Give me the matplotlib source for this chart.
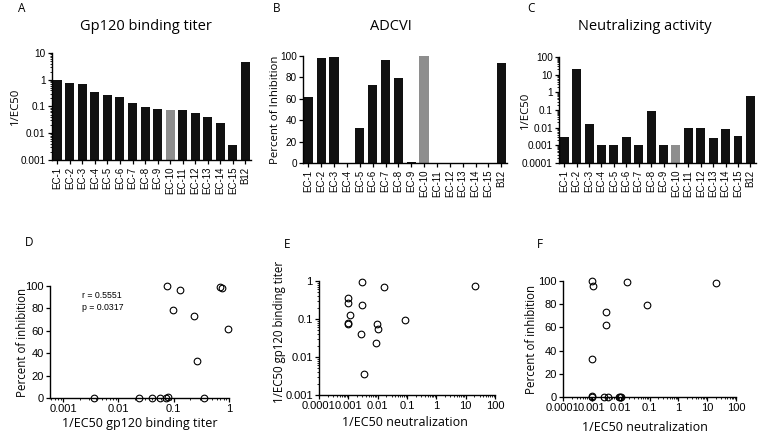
import numpy as np
import matplotlib
matplotlib.use("Agg")
import matplotlib.pyplot as plt
from matplotlib.ticker import LogLocator, NullFormatter, FuncFormatter, FixedLocator

plt.rcParams["font.family"] = ["Liberation Sans", "DejaVu Sans"]

labels = ["EC-1", "EC-2", "EC-3", "EC-4", "EC-5", "EC-6", "EC-7", "EC-8",
          "EC-9", "EC-10", "EC-11", "EC-12", "EC-13", "EC-14", "EC-15", "B12"]
binding = [0.95, 0.75, 0.69, 0.36, 0.26, 0.23, 0.13, 0.097, 0.079, 0.075,
           0.073, 0.056, 0.040, 0.024, 0.0036, 4.7]
adcvi = [62, 98, 99, 0, 33, 73, 96, 79, 1, 100, 0, 0, 0, 0, 0, 93]
neut = [0.003, 21, 0.017, 0.001, 0.001, 0.003, 0.0011, 0.085, 0.001, 0.001,
        0.0095, 0.01, 0.0027, 0.0085, 0.0035, 0.65]
gray_bar = "EC-10"

W, H = 762, 437
LABEL_FONT = "Open Sans"


def fx(px):
    return px / W


def fy(py):
    return 1 - py / H


def rect(left, top, right, bottom):
    return [fx(left), fy(bottom), fx(right) - fx(left), fy(top) - fy(bottom)]


def log_fmt(v, pos):
    return "{:g}".format(v)


def style(ax, fs):
    for s in ["top", "right"]:
        ax.spines[s].set_visible(False)
    for s in ["left", "bottom"]:
        ax.spines[s].set_linewidth(1.0)
    ax.tick_params(which="major", length=3, width=0.9, labelsize=fs, pad=1.5)
    ax.tick_params(which="minor", length=1.6, width=0.6)


def log_axis(axis):
    axis.set_major_locator(LogLocator(base=10, numticks=20))
    axis.set_minor_locator(LogLocator(base=10, subs=np.arange(2, 10), numticks=20))
    axis.set_major_formatter(FuncFormatter(log_fmt))
    axis.set_minor_formatter(NullFormatter())


def place_ylabel(ax, right_px, rc, shift=0.0):
    ax.yaxis.set_label_coords(fx(right_px), rc[1] + rc[3] / 2 + shift, transform=fig.transFigure)


fig = plt.figure(figsize=(W / 100, H / 100), dpi=100)

x = np.arange(len(labels))
colors = ["#8e8e8e" if l == gray_bar else "#111111" for l in labels]


def bar_panel(rc, vals, log, ylim, title, ylabel, tx, ylab_x):
    ax = fig.add_axes(rc)
    if log:
        ax.set_yscale("log", nonpositive="clip")
    ax.bar(x, vals, width=0.72, color=colors, bottom=ylim[0] if log else 0)
    ax.set_xlim(-0.42, len(labels) - 0.55)
    style(ax, 7.2)
    if log:
        log_axis(ax.yaxis)
    ax.set_ylim(*ylim)
    ax.set_xticks(x)
    ax.set_xticklabels(labels, rotation=90, fontsize=7)
    ax.tick_params(axis="x", length=3, pad=2)
    ax.set_ylabel(ylabel, fontsize=8.2, family=LABEL_FONT)
    place_ylabel(ax, ylab_x, rc)
    fig.text(fx(tx), fy(26), title, ha="center", va="center", fontsize=10.5, family=LABEL_FONT)
    return ax


bar_panel(rect(52, 53, 251, 160), [v - 0.001 for v in binding], True, (0.001, 10),
          "Gp120 binding titer", "1/EC50", 146, 21)
axb = bar_panel(rect(303, 56, 507, 163), adcvi, False, (0, 100),
                "ADCVI", "Percent of Inhibition", 391, 281)
axb.set_yticks([0, 20, 40, 60, 80, 100])
bar_panel(rect(559, 57, 756, 163), [v - 0.0001 for v in neut], True, (0.0001, 100),
          "Neutralizing activity", "1/EC50", 645, 531)

for lab, px, py in [("A", 22, 9), ("B", 277, 9), ("C", 531, 9),
                    ("D", 29, 243), ("E", 287, 245), ("F", 540, 245)]:
    fig.text(fx(px), fy(py), lab, ha="center", va="center", fontsize=8.5, family=LABEL_FONT)

ec_binding = binding[:15]
ec_adcvi = adcvi[:15]
ec_neut = neut[:15]


def scatter(ax, xs, ys):
    ax.plot(xs, ys, "o", mfc="none", mec="black", ms=4.8, mew=0.8, clip_on=False, zorder=5)


# D
rc_d = rect(50, 286, 229, 398)
axd = fig.add_axes(rc_d)
axd.set_xscale("log")
scatter(axd, ec_binding, ec_adcvi)
style(axd, 8)
log_axis(axd.xaxis)
axd.xaxis.set_major_locator(FixedLocator([0.001, 0.01, 0.1, 1]))
axd.set_xlim(0.00058, 1)
axd.set_ylim(0, 100)
axd.set_yticks([0, 20, 40, 60, 80, 100])
axd.set_xlabel("1/EC50 gp120 binding titer", fontsize=9, family=LABEL_FONT)
axd.xaxis.set_label_coords(fx(140), fy(417), transform=fig.transFigure)
axd.set_ylabel("Percent of inhibition", fontsize=8.3, family=LABEL_FONT)
place_ylabel(axd, 29, rc_d)
fig.text(fx(82), fy(296), "r = 0.5551", fontsize=6.3, va="center")
fig.text(fx(82), fy(308), "p = 0.0317", fontsize=6.3, va="center")

# E
rc_e = rect(319, 281, 495, 395)
axe = fig.add_axes(rc_e)
axe.set_xscale("log")
axe.set_yscale("log")
scatter(axe, ec_neut, ec_binding)
style(axe, 8)
log_axis(axe.xaxis)
log_axis(axe.yaxis)
axe.set_xlim(0.0001, 100)
axe.set_ylim(0.001, 1)
axe.set_xlabel("1/EC50 neutralization", fontsize=9, family=LABEL_FONT)
axe.xaxis.set_label_coords(fx(405), fy(416), transform=fig.transFigure)
axe.set_ylabel("1/EC50 gp120 binding titer", fontsize=8.3, family=LABEL_FONT)
place_ylabel(axe, 286, rc_e, shift=6 / H)

# F
rc_f = rect(563, 281, 736, 397)
axf = fig.add_axes(rc_f)
axf.set_xscale("log")
scatter(axf, ec_neut, ec_adcvi)
style(axf, 8)
log_axis(axf.xaxis)
axf.set_xlim(0.0001, 100)
axf.set_ylim(0, 100)
axf.set_yticks([0, 20, 40, 60, 80, 100])
axf.set_xlabel("1/EC50 neutralization", fontsize=9, family=LABEL_FONT)
axf.xaxis.set_label_coords(fx(645), fy(421), transform=fig.transFigure)
axf.set_ylabel("Percent of inhibition", fontsize=8.3, family=LABEL_FONT)
place_ylabel(axf, 538, rc_f)

fig.savefig("out.png", dpi=100, facecolor="white")
